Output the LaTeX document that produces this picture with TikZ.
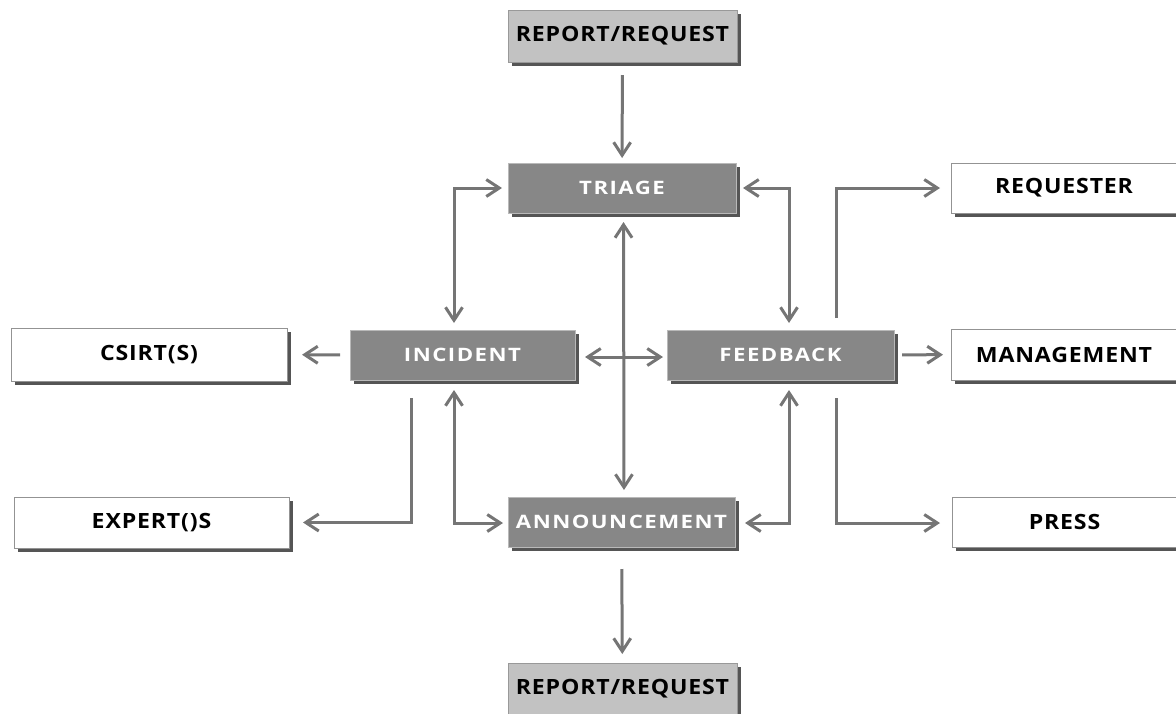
\documentclass[tikz,border=0pt]{standalone}
\usepackage{fontspec}
\setmainfont{Open Sans}
\newfontfamily\darklabel{Open Sans}[LetterSpace=8,FakeStretch=1.2]
\newfontfamily\lightlabel{Open Sans}[LetterSpace=4,FakeStretch=1.1]
\usetikzlibrary{arrows.meta,shadows}
\definecolor{boxdark}{HTML}{878787}
\definecolor{boxlight}{HTML}{C2C2C2}
\definecolor{shade}{HTML}{555555}
\definecolor{linkgray}{HTML}{757575}
\begin{document}
\begin{tikzpicture}[x=1pt,y=-1pt,
  basebox/.style={rectangle, inner sep=0pt, outer sep=0pt,
    minimum width=227pt, minimum height=50pt,
    drop shadow={shadow xshift=4pt, shadow yshift=-4pt, fill=shade, opacity=1}},
  darkbox/.style={basebox, fill=boxdark, draw=gray!55, line width=0.8pt,
    text=white, font=\darklabel\bfseries\fontsize{18.5}{20}\selectfont},
  greybox/.style={basebox, fill=boxlight, draw=gray!80, line width=0.8pt,
    text=black, font=\lightlabel\bfseries\fontsize{21}{23}\selectfont},
  whitebox/.style={basebox, fill=white, draw=gray!85, line width=0.8pt,
    text=black, font=\lightlabel\bfseries\fontsize{21}{23}\selectfont},
  barb/.tip={Straight Barb[length=13pt,width=17pt]},
  link/.style={draw=linkgray, line width=3pt, arrows={-barb}},
  dlink/.style={link, arrows={barb-barb}},
]
\useasboundingbox (0,0) rectangle (1176,713);
\clip (0,0) rectangle (1176,713);

% process boxes
\node[greybox, minimum width=229pt, minimum height=52pt] (rrtop) at (622.5,36) {REPORT/REQUEST};
\node[darkbox, minimum width=228pt] (triage) at (622,188) {TRIAGE};
\node[darkbox, minimum width=225pt] (incident) at (462.5,355) {INCIDENT};
\node[darkbox] (feedback) at (780.5,355) {FEEDBACK};
\node[darkbox] (announce) at (621.5,522) {ANNOUNCEMENT};
\node[greybox, minimum width=229pt, minimum height=52pt] (rrbot) at (622.5,689) {REPORT/REQUEST};

% parties outside the process
\node[whitebox, minimum width=276pt, minimum height=53pt] (csirt) at (149,354.5) {CSIRT(S)};
\node[whitebox, minimum width=275pt, minimum height=51pt] (expert) at (151.5,522.5) {EXPERT()S};
\node[whitebox, minimum width=226pt] (requester) at (1064,188) {REQUESTER};
\node[whitebox, minimum width=226pt, minimum height=51pt] (mgmt) at (1064,354.5) {MANAGEMENT};
\node[whitebox, minimum width=225pt] (press) at (1064.5,522) {PRESS};

% flow through the process
\draw[link, shorten <=13pt, shorten >=5pt] (rrtop) -- (triage);
\draw[dlink, shorten <=9pt, shorten >=7pt] ([xshift=1.5pt]triage.south) -- ([xshift=2.5pt]announce.north);
\draw[dlink, shorten <=10pt, shorten >=4pt] ([yshift=-2pt]incident.east) -- ([yshift=-2pt]feedback.west);
\draw[dlink, shorten <=7pt, shorten >=6pt] ([xshift=-8.5pt]incident.north) |- (triage.west);
\draw[dlink, shorten <=7pt, shorten >=7pt] ([xshift=8.5pt]feedback.north) |- (triage.east);
\draw[dlink, shorten <=10pt, shorten >=5pt] ([xshift=-8.5pt]incident.south) |- ([yshift=-1pt]announce.west);
\draw[dlink, shorten <=10pt, shorten >=10pt] ([xshift=8.5pt]feedback.south) |- ([yshift=-1pt]announce.east);
\draw[link, shorten <=22pt, shorten >=9pt] (announce) -- (rrbot);

% hand-offs to outside parties
\draw[link, shorten <=10pt, shorten >=15pt] (incident) -- (csirt);
\draw[link, shorten <=18pt, shorten >=14pt] ([xshift=-51.5pt]incident.south) |- (expert.east);
\draw[link, shorten <=8pt, shorten >=8pt] (feedback) -- (mgmt);
\draw[link, shorten <=12pt, shorten >=11pt] ([xshift=56pt]feedback.north) |- (requester.west);
\draw[link, shorten <=18pt, shorten >=12pt] ([xshift=56pt]feedback.south) |- ([yshift=-1pt]press.west);
\end{tikzpicture}
\end{document}
